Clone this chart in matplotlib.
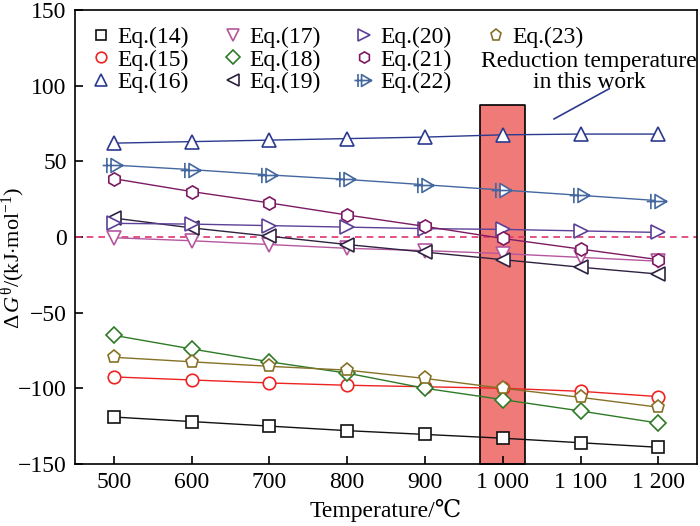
import numpy as np
import matplotlib
matplotlib.use("Agg")
import matplotlib.pyplot as plt
from matplotlib.path import Path
from matplotlib.lines import Line2D

plt.rcParams['font.family'] = ['Liberation Serif', 'DejaVu Serif', 'DejaVu Sans']
plt.rcParams['mathtext.fontset'] = 'custom'
plt.rcParams['mathtext.rm'] = 'Liberation Serif'
plt.rcParams['mathtext.it'] = 'Liberation Serif:italic'
plt.rcParams['font.size'] = 17

temps = [500, 600, 700, 800, 900, 1000, 1100, 1200]
tick_labels = ['500', '600', '700', '800', '900', '1 000', '1 100', '1 200']

eq14 = [-119, -122, -125, -128, -130.5, -133, -136, -139]
eq15 = [-92.5, -94.5, -96.5, -98, -99, -100, -102, -105.5]
eq16 = [62, 63, 64, 65, 66, 67.5, 68, 68]
eq17 = [-0.5, -2.5, -5, -7.5, -9, -11, -13.5, -16]
eq18 = [-65, -74, -82.5, -90, -100, -107.5, -115, -123]
eq19 = [12.5, 6, 0.5, -5, -10, -15, -20, -24.5]
eq20 = [9, 8.5, 7.5, 6.5, 5.5, 5, 4, 3]
eq21 = [38.5, 30, 22.5, 14.5, 7, -1, -8, -15]
eq22 = [47.5, 44.5, 41, 38, 34.5, 31, 27.5, 24]
eq23 = [-79.5, -82.5, -85.5, -88, -93.5, -100, -106, -112.5]

names = ['Eq.(14)', 'Eq.(15)', 'Eq.(16)', 'Eq.(17)', 'Eq.(18)',
         'Eq.(19)', 'Eq.(20)', 'Eq.(21)', 'Eq.(22)', 'Eq.(23)']
series = [eq14, eq15, eq16, eq17, eq18, eq19, eq20, eq21, eq22, eq23]
colors = ['#111111', '#ee2222', '#2b3a8f', '#b4579f', '#2e7a27',
          '#2f2240', '#5c4097', '#7c1b62', '#43679e', '#857226']

# right triangle crossed by a bar, for Eq.(22)
tri_cross = Path(
    [(-0.25, -0.5), (-0.25, 0.5), (0.6, 0.0), (-0.25, -0.5),
     (-0.55, -0.55), (-0.55, 0.55), (-0.85, 0.0), (0.6, 0.0)],
    [Path.MOVETO, Path.LINETO, Path.LINETO, Path.CLOSEPOLY,
     Path.MOVETO, Path.LINETO, Path.MOVETO, Path.LINETO])
markers = ['s', 'o', '^', 'v', 'D', '<', '>', 'h', tri_cross, 'p']
sizes = [8, 9, 10, 10, 8, 10, 10, 9.5, 17, 9.5]

bar_lo, bar_hi = 971, 1028
bar_top = 87

fig = plt.figure(figsize=(7.0, 5.26), dpi=100)
ax = fig.add_axes([0.107, 0.118, 0.889, 0.863])

ax.fill_between([bar_lo, bar_hi], -150, bar_top, facecolor='#f07a78',
                edgecolor='black', linewidth=1.2, zorder=1)
ax.axhline(0, color='#e0336e', ls='--', lw=1.2, dashes=(4, 3), zorder=2)

handles = []
for y, n, c, m, s in zip(series, names, colors, markers, sizes):
    ax.plot(temps, y, color=c, lw=1.0, marker=m, ms=s, mfc='white',
            mec=c, mew=1.2, zorder=3)
    handles.append(Line2D([], [], ls='none', marker=m, ms=s * 0.85,
                          mfc='white', mec=c, mew=1.2, label=n))
# two empty slots so the fourth column holds only Eq.(23)
for _ in range(2):
    handles.append(Line2D([], [], ls='none', label=' '))

leg = ax.legend(handles=handles, ncol=4, loc='upper left', frameon=False,
                bbox_to_anchor=(0.0, 1.0), handlelength=0.8,
                handletextpad=0.3, columnspacing=1.45, labelspacing=0.05,
                borderaxespad=0.3, fontsize=17)

ax.text(1111, 109, 'Reduction temperature\nin this work', ha='center',
        va='center', fontsize=17, linespacing=0.95)
ax.plot([1066, 1137], [78, 98], color='#2b3a8f', lw=1.2, zorder=3)

ax.set_xlim(450, 1250)
ax.set_ylim(-150, 150)
ax.set_xticks(temps)
ax.set_xticklabels(tick_labels)
ax.set_yticks([-150, -100, -50, 0, 50, 100, 150])
ax.tick_params(direction='in', length=6, width=1.2, labelsize=17,
               top=False, right=False, pad=6)
for sp in ax.spines.values():
    sp.set_linewidth(1.2)

ax.set_xlabel('Temperature/℃', fontsize=17, labelpad=4)
ax.set_ylabel(r'$\Delta\,G^{\mathrm{θ}}/(\mathrm{kJ{\cdot}mol^{-1}})$',
              fontsize=16)
ax.yaxis.set_label_coords(-0.077, 0.455)

fig.savefig('out.png', dpi=100)
